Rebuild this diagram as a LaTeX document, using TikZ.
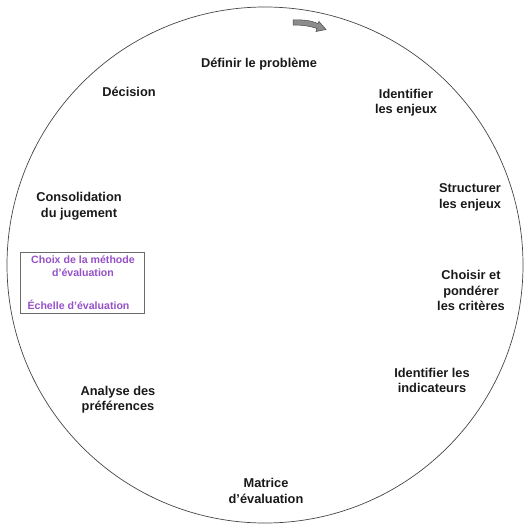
\documentclass[tikz,border=0pt]{standalone}
\usepackage{fontspec}
\setmainfont{Liberation Sans}
\definecolor{purp}{RGB}{150,80,200}
\definecolor{edge}{RGB}{70,70,70}
\begin{document}
\begin{tikzpicture}[x=1pt,y=-1pt,
  lbl/.style={font=\fontsize{12.8}{15.5}\selectfont\bfseries, align=center, inner sep=0pt, text=black!90},
  plbl/.style={font=\fontsize{10.6}{12.8}\selectfont\bfseries, align=center, inner sep=0pt, text=purp}]
\useasboundingbox (0,0) rectangle (526,529);
\node[circle, draw=edge, line width=0.7pt, minimum size=516pt, inner sep=0pt] (cyc) at (265,265) {};
% curved arrow
\filldraw[fill=gray!90, draw=edge, line width=0.5pt]
  (293,20) .. controls (303,19.5) and (311,20.5) .. (318,23.5)
  -- (319,21.5) -- (326,29.5) -- (316,31.5) -- (317,28.5)
  .. controls (310,26) and (302,25) .. (293,25) -- cycle;
\node[lbl] (p1) at (259,64) {Définir le problème};
\node[lbl] (p2) at (406,102.5) {Identifier\\les enjeux};
\node[lbl] (p3) at (470,197.5) {Structurer\\les enjeux};
\node[lbl] (p4) at (471,290.5) {Choisir et\\pondérer\\les critères};
\node[lbl] (p5) at (432,380.5) {Identifier les\\indicateurs};
\node[lbl] (p6) at (266,491) {Matrice\\d’évaluation};
\node[lbl] (p7) at (118,399.5) {Analyse des\\préférences};
\node[lbl] (p8) at (79,206) {Consolidation\\du jugement};
\node[lbl] (p9) at (129,92) {Décision};
\node[draw=edge!80, line width=0.8pt, minimum width=124pt, minimum height=61pt, inner sep=0pt] (box) at (82,282.5) {};
\node[plbl] (m1) at (83,266.5) {Choix de la méthode\\d’évaluation};
\node[plbl] (m2) at (78.5,305) {Échelle d’évaluation};
\end{tikzpicture}
\end{document}
